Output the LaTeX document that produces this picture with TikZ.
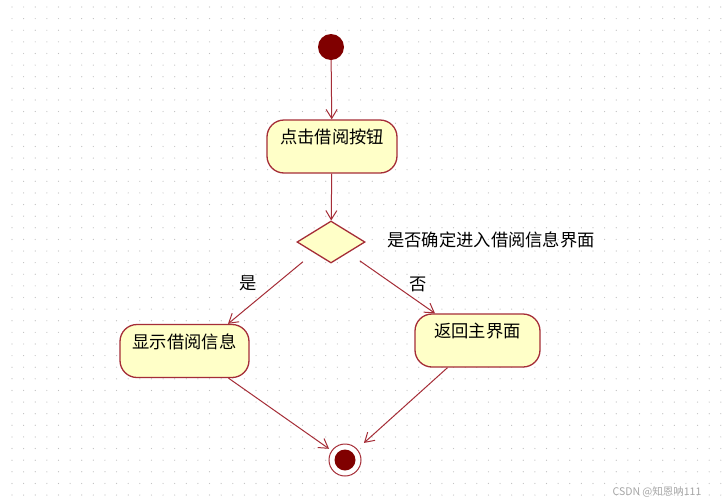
\documentclass[tikz,border=0pt]{standalone}
\usepackage{fontspec}
\setmainfont{Noto Sans CJK SC}
\usetikzlibrary{shapes.geometric,arrows.meta}
\definecolor{roseline}{RGB}{165,45,55}
\definecolor{rosefill}{RGB}{255,255,200}
\definecolor{rosedot}{RGB}{128,0,0}
\begin{document}
\begin{tikzpicture}[x=1pt,y=-1pt, every node/.style={font=\fontsize{17.3}{19}\selectfont},
  act/.style={draw=roseline,fill=rosefill,line width=1.3pt,rounded corners=17pt,text height=20.5pt,text depth=26.5pt,inner ysep=3pt,inner xsep=0pt},
  choice/.style={diamond,draw=roseline,fill=rosefill,line width=1.3pt,minimum width=68pt,minimum height=42pt,inner sep=0pt},
  flow/.style={draw=roseline,line width=1pt,-{Straight Barb[length=9pt,width=11pt]}}]
\useasboundingbox (0,0) rectangle (724,504);
\fill[white] (0,0) rectangle (724,504);
% dotted grid
\foreach \i in {0,...,61} \foreach \j in {0,...,43} \fill[gray!50] ({12+11.62*\i},{7+11.62*\j}) circle (0.6pt);
% states
\node[circle,fill=rosedot,minimum size=26pt,inner sep=0pt] (start) at (331,47) {};
\node[act,minimum width=130pt] (act1) at (332,146.5) {点击借阅按钮};
\node[choice] (choice) at (331,242) {};
\node[anchor=west,inner sep=0pt] (ask) at (387,240) {是否确定进入借阅信息界面};
\node[act,minimum width=129pt] (act2) at (184.5,351) {显示借阅信息};
\node[act,minimum width=125pt] (act3) at (477.5,340.5) {返回主界面};
\node[circle,draw=roseline,fill=white,line width=1pt,minimum size=32pt,inner sep=0pt] (stop) at (345,460) {};
\node[circle,fill=rosedot,minimum size=21pt,inner sep=0pt] (stopdot) at (stop) {};
% guards
\node (yes) at (248,283) {是};
\node (no) at (418,284) {否};
% transitions
\draw[flow] (start) -- (act1);
\draw[flow] (act1) -- (choice);
\draw[flow,shorten <=14pt] (choice.south west) -- ([xshift=43.5pt]act2.north);
\draw[flow,shorten <=14pt] (choice.south east) -- ([xshift=-42.5pt]act3.north);
\draw[flow,shorten >=3pt] ([xshift=44pt]act2.south) -- (stop);
\draw[flow,shorten >=9pt] ([xshift=-30pt]act3.south) -- (stop);
% watermark
\node[text=gray!70,font=\fontsize{10.5}{12}\selectfont] (mark) at (657,492) {CSDN @知恩呐111};
\end{tikzpicture}
\end{document}
